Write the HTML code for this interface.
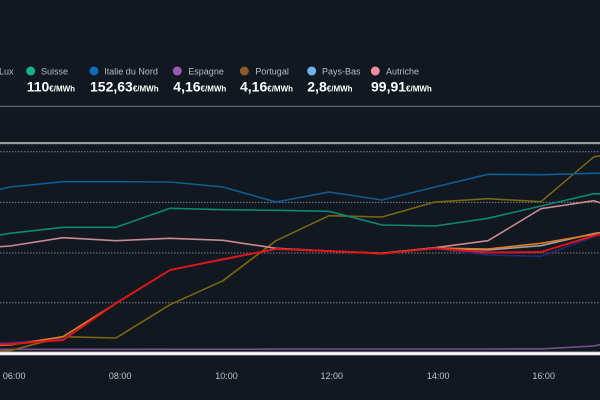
<!DOCTYPE html>
<html><head><meta charset="utf-8"><style>
html,body{margin:0;padding:0;background:#121820;}
svg{display:block;}
text{font-family:"Liberation Sans",sans-serif;}
</style></head><body>
<svg width="600" height="400" viewBox="0 0 600 400" xmlns="http://www.w3.org/2000/svg">
<rect width="600" height="400" fill="#121820"/>
<!-- legend -->
<g font-size="9" fill="#b8bcc2">
<text x="13.5" y="74.5" text-anchor="end">Lux</text>
<circle cx="30.7" cy="71" r="4.5" fill="#13b38a"/><text x="41" y="74.5">Suisse</text>
<circle cx="94" cy="71" r="4.5" fill="#0f6cbd"/><text x="104.3" y="74.5">Italie du Nord</text>
<circle cx="177.3" cy="71" r="4.5" fill="#9b59b6"/><text x="188.3" y="74.5">Espagne</text>
<circle cx="244.3" cy="71" r="4.5" fill="#8b5a2b"/><text x="255.3" y="74.5">Portugal</text>
<circle cx="311.7" cy="71" r="4.5" fill="#6fb5ec"/><text x="322" y="74.5">Pays-Bas</text>
<circle cx="375.3" cy="71" r="4.5" fill="#f08c99"/><text x="386" y="74.5">Autriche</text>
</g>
<g fill="#ffffff" font-weight="bold">
<text x="26.7" y="91.5" font-size="14">110<tspan font-size="8">€/MWh</tspan></text>
<text x="90" y="91.5" font-size="14">152,63<tspan font-size="8">€/MWh</tspan></text>
<text x="173.3" y="91.5" font-size="14">4,16<tspan font-size="8">€/MWh</tspan></text>
<text x="240" y="91.5" font-size="14">4,16<tspan font-size="8">€/MWh</tspan></text>
<text x="307.3" y="91.5" font-size="14">2,8<tspan font-size="8">€/MWh</tspan></text>
<text x="371" y="91.5" font-size="14">99,91<tspan font-size="8">€/MWh</tspan></text>
</g>
<!-- dividers -->
<rect x="0" y="105.8" width="600" height="1" fill="#72767b"/>
<rect x="0" y="142" width="600" height="2.2" fill="#9a9da0"/>
<!-- grid -->
<g stroke="#7d8288" stroke-width="1" stroke-dasharray="1.5 1.5">
<line x1="0" y1="151.7" x2="600" y2="151.7"/>
<line x1="0" y1="202.4" x2="600" y2="202.4"/>
<line x1="0" y1="253" x2="600" y2="253"/>
<line x1="0" y1="302.8" x2="600" y2="302.8"/>
</g>
<!-- series -->
<g fill="none" stroke-width="1.6" stroke-linejoin="round">
<polyline stroke="#7b4d8f" points="-43,349.4 10,349.3 63,349.3 116,349.3 170,349.2 223,349.2 276,349.1 329,349 382,349 435,349 488,349 541,348.9 594,346 647,334"/>
<polyline stroke="#7d6511" points="-43,353 10,350.7 63,336.7 116,338 170,304.7 223,280.7 276,240.7 329,215.7 382,217 435,202 488,198.7 541,201.7 594,156.7 647,150"/>
<polyline stroke="#0c5d95" points="-43,199.3 10,187 63,181.7 116,181.7 170,182 223,187 276,202 329,192 382,200 435,187 488,174.3 541,174.7 594,173.3 647,172"/>
<polyline stroke="#0a8a70" points="-43,242 10,233.3 63,227.3 116,227.3 170,208.3 223,209.7 276,210.3 329,211.3 382,225 435,226 488,218.3 541,206 594,193.7 647,195"/>
<polyline stroke="#c98a93" points="-43,249.7 10,246 63,237.7 116,240.7 170,238.3 223,240.3 276,248.3 329,251 382,253.3 435,247.7 488,240.7 541,208.7 594,200.7 647,218"/>
<polyline stroke="#1e2a78" points="-43,344 10,342.5 63,339 116,303.3 170,270 223,259.3 276,249 329,251 382,253.5 435,248.8 488,255 541,256.3 594,236.7 647,220"/>
<polyline stroke="#9aa0a6" points="382,253.3 435,248 488,250 541,245.7 594,233.5 647,225"/>
<polyline stroke="#e07a1f" points="-43,347 10,345 63,336.7 116,303.3 170,270 223,259.3 276,249 329,251 382,253.3 435,248 488,249 541,243.3 594,234.3 647,226"/>
<polyline stroke="#e0141a" stroke-width="1.9" points="-43,346 10,344 63,340 116,303.3 170,270 223,259.3 276,249 329,251 382,253.7 435,248.3 488,252.5 541,252 594,235.7 647,222"/>
</g>
<!-- bottom axis -->
<rect x="0" y="351.5" width="600" height="4" fill="#9a9a9a"/>
<rect x="0" y="352.3" width="600" height="2.5" fill="#ffffff"/>
<!-- x labels -->
<g font-size="9" fill="#c0c4c8" text-anchor="middle">
<text x="14.2" y="379">06:00</text>
<text x="120.2" y="379">08:00</text>
<text x="226.5" y="379">10:00</text>
<text x="331.8" y="379">12:00</text>
<text x="438.2" y="379">14:00</text>
<text x="543.7" y="379">16:00</text>
</g>
</svg>
</body></html>
